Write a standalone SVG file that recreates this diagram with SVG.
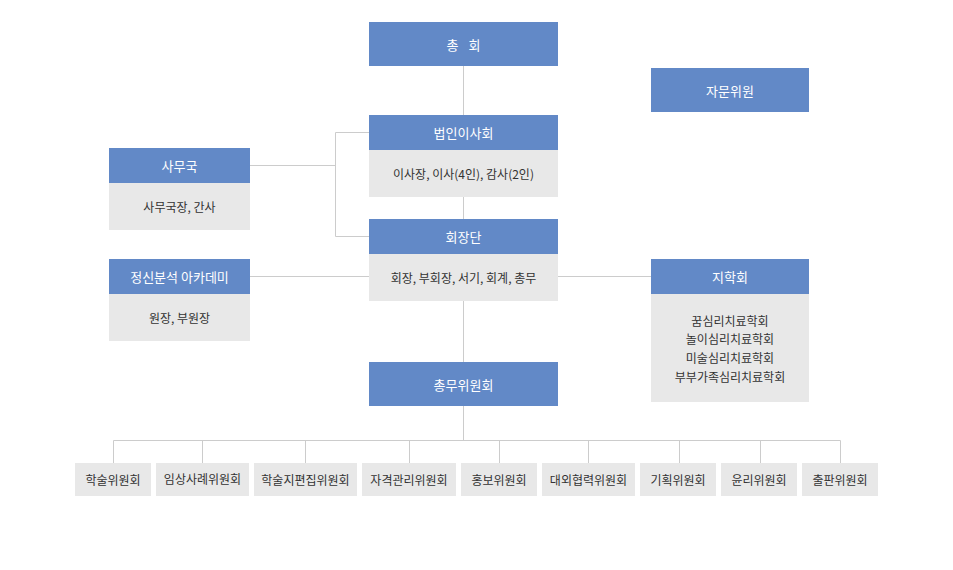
<svg xmlns="http://www.w3.org/2000/svg" width="953" height="570" viewBox="0 0 953 570">
<style>
.hd{fill:#6289c7}
.bd{fill:#e8e8e8}
.ht{fill:#ffffff;font-family:"Noto Sans CJK KR","Noto Sans",sans-serif;font-size:13px;text-anchor:middle;dominant-baseline:central}
.bt{fill:#333333;font-family:"Noto Sans CJK KR","Noto Sans",sans-serif;font-size:12px;text-anchor:middle;dominant-baseline:central}
.ln{stroke:#cccccc;stroke-width:1;fill:none}
</style>
<rect width="953" height="570" fill="#ffffff"/>
<g id="connectors">
<path class="ln" d="M463.5 66V115M463.5 197V219M463.5 301V362M463.5 406V440.5"/>
<path class="ln" d="M369 132.5H335.5V236.5H369M250 165.5H335.5"/>
<path class="ln" d="M250 276.5H369M558 276.5H651"/>
<path class="ln" d="M113.5 463V440.5H840.5V463M202.5 440.5V463M305.5 440.5V463M409.5 440.5V463M499.5 440.5V463M588.5 440.5V463M679.5 440.5V463M760.5 440.5V463"/>
</g>
<g id="n-chonghoe">
<rect class="hd" x="369" y="22" width="189" height="44"/>
<text class="ht" x="463.5" y="44" word-spacing="7">총 회</text>
</g>
<g id="n-jamun">
<rect class="hd" x="651" y="68" width="158" height="44"/>
<text class="ht" x="730" y="90">자문위원</text>
</g>
<g id="n-isahoe">
<rect class="hd" x="369" y="115" width="189" height="35"/>
<rect class="bd" x="369" y="150" width="189" height="47"/>
<text class="ht" x="463.5" y="132">법인이사회</text>
<text class="bt" x="463.5" y="173">이사장, 이사(4인), 감사(2인)</text>
</g>
<g id="n-samuguk">
<rect class="hd" x="109" y="148" width="141" height="35"/>
<rect class="bd" x="109" y="183" width="141" height="47"/>
<text class="ht" x="179.5" y="165">사무국</text>
<text class="bt" x="179.5" y="206">사무국장, 간사</text>
</g>
<g id="n-hoejangdan">
<rect class="hd" x="369" y="219" width="189" height="35"/>
<rect class="bd" x="369" y="254" width="189" height="47"/>
<text class="ht" x="463.5" y="236">회장단</text>
<text class="bt" x="463.5" y="277">회장, 부회장, 서기, 회계, 총무</text>
</g>
<g id="n-academy">
<rect class="hd" x="109" y="259" width="141" height="35"/>
<rect class="bd" x="109" y="294" width="141" height="47"/>
<text class="ht" x="179.5" y="276">정신분석 아카데미</text>
<text class="bt" x="179.5" y="317">원장, 부원장</text>
</g>
<g id="n-jihakhoe">
<rect class="hd" x="651" y="259" width="158" height="35"/>
<rect class="bd" x="651" y="294" width="158" height="108"/>
<text class="ht" x="730" y="276">지학회</text>
<text class="bt" x="730" y="320.5">꿈심리치료학회</text>
<text class="bt" x="730" y="338.5">놀이심리치료학회</text>
<text class="bt" x="730" y="357">미술심리치료학회</text>
<text class="bt" x="730" y="376">부부가족심리치료학회</text>
</g>
<g id="n-chongmu">
<rect class="hd" x="369" y="362" width="189" height="44"/>
<text class="ht" x="463.5" y="384">총무위원회</text>
</g>
<g id="c1"><rect class="bd" x="75" y="463" width="76" height="33"/><text class="bt" x="113" y="479.5">학술위원회</text></g>
<g id="c2"><rect class="bd" x="156" y="463" width="93" height="33"/><text class="bt" x="202.5" y="478.5">임상사례위원회</text></g>
<g id="c3"><rect class="bd" x="254" y="463" width="103" height="33"/><text class="bt" x="305.5" y="479.5">학술지편집위원회</text></g>
<g id="c4"><rect class="bd" x="362" y="463" width="94" height="33"/><text class="bt" x="409" y="479.5">자격관리위원회</text></g>
<g id="c5"><rect class="bd" x="461" y="463" width="76" height="33"/><text class="bt" x="499" y="479.5">홍보위원회</text></g>
<g id="c6"><rect class="bd" x="542" y="463" width="93" height="33"/><text class="bt" x="588.5" y="479.5">대외협력위원회</text></g>
<g id="c7"><rect class="bd" x="640" y="463" width="76" height="33"/><text class="bt" x="678" y="479.5">기획위원회</text></g>
<g id="c8"><rect class="bd" x="721" y="463" width="76" height="33"/><text class="bt" x="759" y="479.5">윤리위원회</text></g>
<g id="c9"><rect class="bd" x="802" y="463" width="76" height="33"/><text class="bt" x="840" y="479.5">출판위원회</text></g>
</svg>
